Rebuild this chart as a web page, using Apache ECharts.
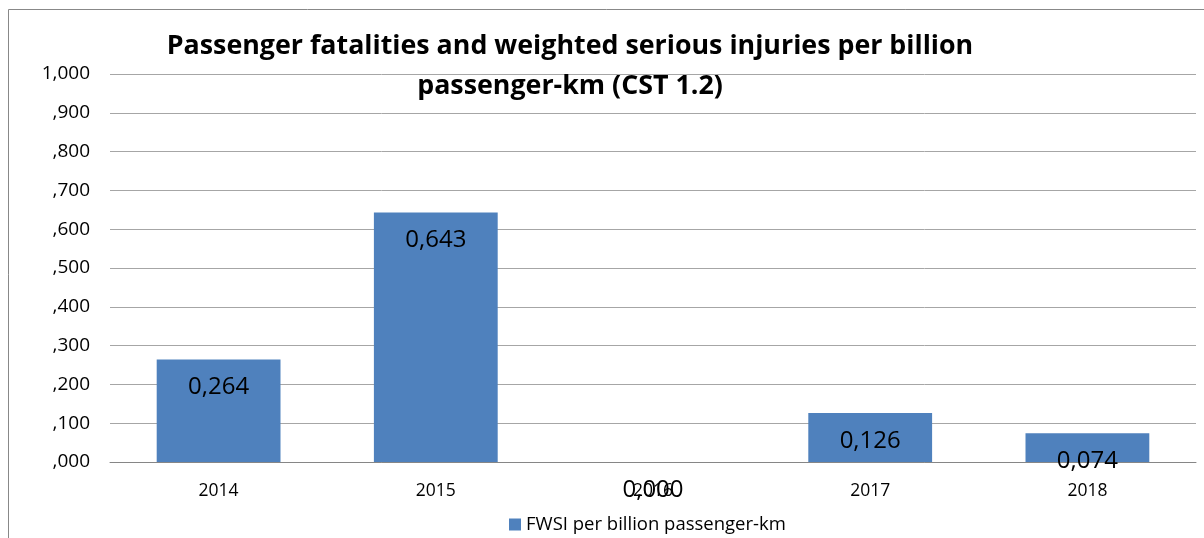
<!DOCTYPE html>
<html>
<head>
    <meta charset='utf-8'>
    <script src="https://cdn.jsdelivr.net/npm/echarts@6/dist/echarts.min.js"></script>
</head>
<body>
<style>
    html, body, #main {
        width: 100%;
        height: 100%;
        margin: 0;
        padding: 0;
        background: #fff;
    }
</style>
<div id="main"></div>
<script>
    var years = ['2014', '2015', '2016', '2017', '2018'];
    var fwsi = [0.264, 0.643, 0.000, 0.126, 0.074];
    var seriesName = 'FWSI per billion passenger-km';
    var titleText = 'Passenger fatalities and weighted serious injuries per billion\npassenger-km (CST 1.2)';

    var font = '"Open Sans", sans-serif';

    // 0.5 -> ",500" and 1 -> "1,000"
    function axisFmt(v) {
        var s = v.toFixed(3).replace('.', ',');
        return s.charAt(0) === '0' ? s.slice(1) : s;
    }

    var chart = echarts.init(document.getElementById('main'));

    chart.setOption({
        animation: false,
        textStyle: { fontFamily: font },
        title: {
            text: titleText,
            left: 565,
            top: 21,
            textAlign: 'center',
            textStyle: {
                fontSize: 26.8,
                fontWeight: 'bold',
                color: '#000',
                lineHeight: 40,
                fontFamily: font
            }
        },
        graphic: [{
            type: 'polyline',
            shape: { points: [[8.5, 540], [8.5, 9.5], [1210, 9.5]] },
            style: { stroke: '#888', fill: null, lineWidth: 1 }
        }],
        legend: {
            top: 510,
            left: 504,
            itemWidth: 12,
            itemHeight: 12,
            itemGap: 6,
            icon: 'rect',
            textStyle: { fontSize: 18.5, color: '#000', fontFamily: font },
            data: [seriesName]
        },
        grid: {
            left: 110,
            right: 8,
            top: 74,
            bottom: 76
        },
        xAxis: {
            type: 'category',
            data: years,
            axisTick: { show: false },
            axisLine: { lineStyle: { color: '#868686' } },
            axisLabel: { fontSize: 17.5, color: '#000', margin: 20, fontFamily: font }
        },
        yAxis: {
            type: 'value',
            min: 0,
            max: 1,
            interval: 0.1,
            axisLine: { show: false },
            axisTick: { show: false },
            splitLine: { lineStyle: { color: '#a6a6a6' } },
            axisLabel: {
                fontSize: 19,
                color: '#000',
                margin: 20,
                fontFamily: font,
                formatter: axisFmt
            }
        },
        series: [{
            name: seriesName,
            type: 'bar',
            data: fwsi,
            barWidth: '57%',
            itemStyle: { color: '#4f81bd' },
            label: {
                show: true,
                position: 'insideTop',
                distance: 16,
                fontSize: 24,
                color: '#000',
                fontFamily: font,
                formatter: function (p) {
                    return p.value.toFixed(3).replace('.', ',');
                }
            }
        }]
    });
</script>
</body>
</html>
